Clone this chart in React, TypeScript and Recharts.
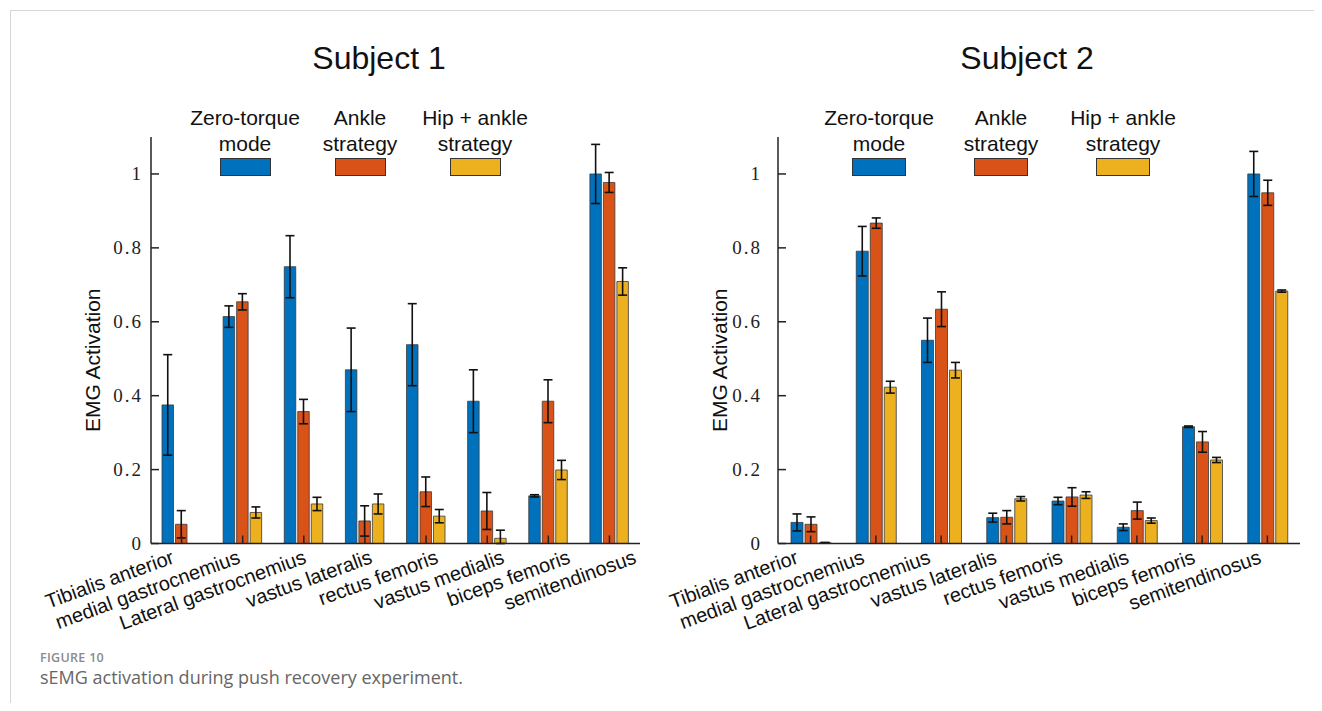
import { Bar, BarChart, ErrorBar, Legend, XAxis, YAxis } from 'recharts';

const muscles = [
	'Tibialis anterior',
	'medial gastrocnemius',
	'Lateral gastrocnemius',
	'vastus lateralis',
	'rectus femoris',
	'vastus medialis',
	'biceps femoris',
	'semitendinosus',
];

// Subject 1 means and error half-widths ([down, up] where asymmetric)
const s1Zero = [0.375, 0.614, 0.749, 0.47, 0.538, 0.385, 0.129, 1.0];
const s1ZeroErr = [0.136, 0.029, 0.084, 0.113, 0.111, 0.085, 0.003, 0.08];
const s1Ankle = [0.052, 0.654, 0.357, 0.061, 0.14, 0.088, 0.385, 0.977];
const s1AnkleErr = [0.037, 0.022, 0.033, 0.041, 0.04, 0.05, 0.058, 0.027];
const s1Hip = [0.0, 0.084, 0.107, 0.107, 0.074, 0.014, 0.199, 0.709];
const s1HipErr = [[0, 0.033], 0.015, 0.018, 0.027, 0.018, [0.014, 0.022], 0.026, 0.037];

// Subject 2
const s2Zero = [0.057, 0.791, 0.55, 0.07, 0.115, 0.044, 0.316, 1.0];
const s2ZeroErr = [0.023, 0.067, 0.06, 0.012, 0.01, 0.009, 0.002, 0.061];
const s2Ankle = [0.052, 0.867, 0.634, 0.071, 0.126, 0.089, 0.275, 0.949];
const s2AnkleErr = [0.02, 0.014, 0.047, 0.018, 0.025, 0.023, 0.028, 0.034];
const s2Hip = [0.002, 0.423, 0.469, 0.121, 0.131, 0.062, 0.226, 0.683];
const s2HipErr = [0.001, 0.016, 0.021, 0.006, 0.009, 0.007, 0.007, 0.003];

const yTicks = [0, 0.2, 0.4, 0.6, 0.8, 1];

const series = [
	{ key: 'zero', lines: ['Zero-torque', 'mode'], color: '#0072BD' },
	{ key: 'ankle', lines: ['Ankle', 'strategy'], color: '#D95319' },
	{ key: 'hip', lines: ['Hip + ankle', 'strategy'], color: '#EDB120' },
];

const buildRows = (zero, zeroErr, ankle, ankleErr, hip, hipErr) =>
	muscles.map((muscle, i) => ({
		muscle,
		zero: zero[i],
		zeroErr: zeroErr[i],
		ankle: ankle[i],
		ankleErr: ankleErr[i],
		hip: hip[i],
		hipErr: hipErr[i],
	}));

const rows1 = buildRows(s1Zero, s1ZeroErr, s1Ankle, s1AnkleErr, s1Hip, s1HipErr);
const rows2 = buildRows(s2Zero, s2ZeroErr, s2Ankle, s2AnkleErr, s2Hip, s2HipErr);

const sans = '"Liberation Sans", Arial, sans-serif';

const makeYTick = (margin: number) => (props: any) => {
	const { x, y, payload } = props;
	const axisX = x + margin;
	const v = payload.value;
	const label = v === 0 || v === 1 ? String(v) : v.toFixed(1);
	return (
		<g>
			<line x1={axisX} y1={y} x2={axisX + 8} y2={y} stroke='#222' strokeWidth={1.5} />
			<text
				x={x}
				y={y}
				dy={6}
				textAnchor='end'
				fontFamily='"Liberation Serif", serif'
				fontSize={19}
				letterSpacing={2}
				fill='#222'
			>
				{label}
			</text>
		</g>
	);
};

// labels in the source drift a little wider than the categories
const makeXTick = (offset: number, spread: number) => (props: any) => {
	const { x, y, payload } = props;
	const tx = x + offset + spread * payload.index;
	const ty = y + 6;
	return (
		<g>
			<line x1={x} y1={y} x2={x} y2={y - 8} stroke='#222' strokeWidth={1.5} />
			<text
				x={tx}
				y={ty}
				dy={14}
				textAnchor='end'
				transform={`rotate(-20, ${tx}, ${ty})`}
				fontFamily={sans}
				fontSize={20}
				fill='#111'
			>
				{payload.value}
			</text>
		</g>
	);
};

const yTitle = (props: any) => {
	const { x, y, width, height } = props.viewBox;
	const cx = x + width - 59;
	const cy = y + height / 2 + 20;
	return (
		<text
			x={cx}
			y={cy}
			transform={`rotate(-90, ${cx}, ${cy})`}
			textAnchor='middle'
			dominantBaseline='central'
			fontFamily={sans}
			fontSize={21}
			fill='#111'
		>
			EMG Activation
		</text>
	);
};

const makeLegend = (itemWidth: number, rectWidth: number) => () => (
	<div style={{ display: 'flex', fontFamily: sans, fontSize: 21, color: '#111' }}>
		{series.map((s) => (
			<div
				key={s.key}
				style={{
					width: itemWidth,
					display: 'flex',
					flexDirection: 'column',
					alignItems: 'center',
					lineHeight: '26px',
				}}
			>
				<span>{s.lines[0]}</span>
				<span>{s.lines[1]}</span>
				<div
					style={{
						marginTop: 1,
						width: rectWidth,
						height: 18,
						background: s.color,
						border: '1px solid #333',
						boxSizing: 'border-box',
					}}
				/>
			</div>
		))}
	</div>
);

interface SubjectChartProps {
	rows: any[];
	left: number;
	width: number;
	marginLeft: number;
	barSize: number;
	tickMargin: number;
	labelOffset: number;
	labelSpread: number;
	legendLeft: number;
	legendItem: number;
	legendRect: number;
}

const SubjectChart = ({
	rows,
	left,
	width,
	marginLeft,
	barSize,
	tickMargin,
	labelOffset,
	labelSpread,
	legendLeft,
	legendItem,
	legendRect,
}: SubjectChartProps) => (
	<div style={{ position: 'absolute', left, top: 90 }}>
		<BarChart
			width={width}
			height={560}
			data={rows}
			margin={{ top: 47, right: 20, left: marginLeft, bottom: 16.5 }}
			barSize={barSize}
			barGap={2}
		>
			<XAxis
				dataKey='muscle'
				height={90}
				interval={0}
				tickSize={0}
				tickMargin={0}
				tick={makeXTick(labelOffset, labelSpread)}
				axisLine={{ stroke: '#222', strokeWidth: 1.5 }}
			/>
			<YAxis
				type='number'
				domain={[0, 1.1]}
				ticks={yTicks}
				width={60}
				tickSize={0}
				tickMargin={tickMargin}
				tick={makeYTick(tickMargin)}
				axisLine={{ stroke: '#222', strokeWidth: 1.5 }}
				label={yTitle}
			/>
			<Legend
				verticalAlign='middle'
				align='center'
				layout='horizontal'
				content={makeLegend(legendItem, legendRect)}
				wrapperStyle={{ top: 15, left: legendLeft, width: legendItem * 3, height: 72 }}
			/>
			{series.map((s) => (
				<Bar
					key={s.key}
					dataKey={s.key}
					fill={s.color}
					stroke='#3a3a3a'
					strokeWidth={0.8}
					isAnimationActive={false}
				>
					<ErrorBar dataKey={`${s.key}Err`} width={4.5} stroke='#111' strokeWidth={1.6} />
				</Bar>
			))}
		</BarChart>
	</div>
);

const titleStyle = {
	position: 'absolute' as const,
	top: 40,
	width: 240,
	textAlign: 'center' as const,
	fontFamily: sans,
	fontSize: 32,
	lineHeight: '36px',
	color: '#111',
};

export default function App() {
	return (
		<div style={{ position: 'relative', width: 1322, height: 711, margin: -8, background: '#fff' }}>
			<div
				style={{
					position: 'absolute',
					left: 10,
					top: 10,
					width: 1312,
					height: 701,
					borderTop: '1px solid #d6d6d6',
					borderLeft: '1px solid #d6d6d6',
				}}
			/>
			<div style={{ ...titleStyle, left: 259 }}>Subject 1</div>
			<div style={{ ...titleStyle, left: 907 }}>Subject 2</div>
			<SubjectChart
				rows={rows1}
				left={12}
				width={648}
				marginLeft={79}
				barSize={11.5}
				tickMargin={8}
				labelOffset={-11}
				labelSpread={4.9}
				legendLeft={175.5}
				legendItem={115}
				legendRect={51}
			/>
			<SubjectChart
				rows={rows2}
				left={650}
				width={670}
				marginLeft={68}
				barSize={12}
				tickMargin={16}
				labelOffset={-16}
				labelSpread={0.9}
				legendLeft={168}
				legendItem={122}
				legendRect={54}
			/>
			<div
				style={{
					position: 'absolute',
					left: 40,
					top: 649,
					fontFamily: '"Open Sans", sans-serif',
					fontSize: 12.5,
					fontWeight: 600,
					letterSpacing: 0.3,
					color: '#8a8a8a',
				}}
			>
				FIGURE 10
			</div>
			<div
				style={{
					position: 'absolute',
					left: 40,
					top: 665,
					fontFamily: '"Open Sans", sans-serif',
					fontSize: 18,
					color: '#666',
				}}
			>
				sEMG activation during push recovery experiment.
			</div>
		</div>
	);
}
